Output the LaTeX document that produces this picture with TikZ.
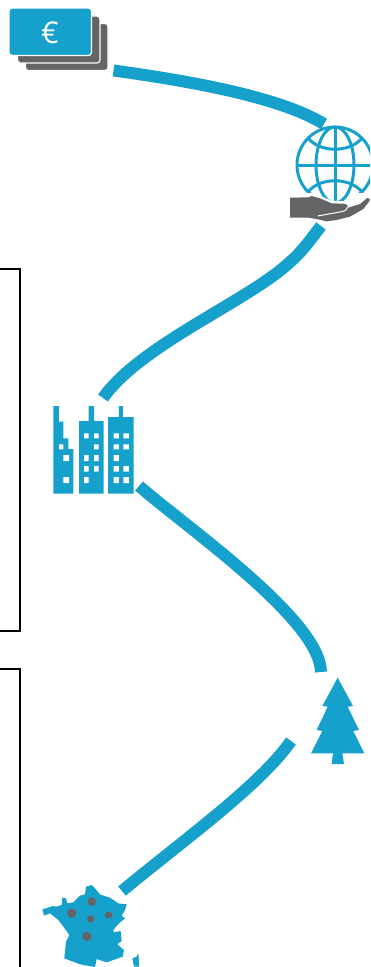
\documentclass[tikz,border=0pt]{standalone}
\usepackage{fontspec}
\newfontfamily\eurofont{Open Sans}
\definecolor{iconblue}{HTML}{16A0CC}
\definecolor{icongrey}{HTML}{636466}
\tikzset{
  route/.style={draw=iconblue,line width=12pt,line cap=butt},
  panel/.style={draw=black,line width=2pt},
  note/.style={draw=white,line width=1.2pt,fill=icongrey,rounded corners=3pt},
  zoomed/.style={x=0.33333pt,y=-0.33333pt},
  blue/.style={fill=iconblue},
  grey/.style={fill=icongrey},
  hole/.style={fill=white},
  wire/.style={draw=iconblue,line width=3pt}
}
\begin{document}
\begin{tikzpicture}[x=1pt,y=-1pt]
\useasboundingbox (0,0) rectangle (370,967);
\clip (0,0) rectangle (370,967);
% panels
\draw[panel] (-10,268.5) -- (20,268.5) -- (20,630.5) -- (-10,630.5);
\draw[panel] (-10,668.5) -- (20,668.5) -- (20,980);
% routes
\coordinate (moneyOut) at (113.5,70.5);
\coordinate (globeIn) at (324,124);
\coordinate (globeOut) at (321,226);
\coordinate (bend) at (290,262);
\coordinate (factoryIn) at (103,398);
\coordinate (factoryOut) at (139,486);
\coordinate (treeIn) at (321,672);
\coordinate (treeOut) at (291,741);
\coordinate (franceIn) at (122,891);
\draw[route] (moneyOut) .. controls (190,81) and (280,97) .. (globeIn);
\draw[route] (globeOut) .. controls (310,240) and (302,252) .. (bend)
   .. controls (250,300) and (140,345) .. (factoryIn);
\draw[route] (factoryOut) .. controls (190,530) and (320,620) .. (treeIn);
\draw[route] (treeOut) .. controls (260,785) and (190,835) .. (franceIn);
% money
\draw[note] (25.5,23.5) rectangle (108,70.5);
\draw[note] (17.5,16) rectangle (100,63);
\draw[draw=white,line width=1.2pt,blue,rounded corners=3pt] (9,8) rectangle (91.5,55.5);
\node[text=white,inner sep=0pt,font=\eurofont\fontsize{30}{30}\selectfont] (euro) at (50,32.5) {€};
% globe
\begin{scope}
\clip (280,110) rectangle (370,192);
\draw[wire] (335,165) circle (38);
\end{scope}
\begin{scope}
\clip (280,110) rectangle (370,200);
\draw[wire] (335,165) ellipse (19 and 38);
\draw[wire] (335,127) -- (335,203);
\draw[wire] (297,165) -- (373,165);
\draw[wire] (308,138) .. controls (320,153) and (350,153) .. (362,138);
\draw[wire] (308,192) .. controls (320,177) and (350,177) .. (362,192);
\end{scope}
% hand
\begin{scope}[shift={(270,110)},zoomed]
\fill[white] (125,250) -- (150,257) -- (185,272) -- (225,274) -- (240,282) -- (300,255) -- (300,272) -- (225,300) -- (125,270) -- cycle;
\fill[grey] (60,263) -- (115,262) -- (125,258) -- (150,265) -- (185,280) -- (222,281)
  .. controls (236,283) and (234,292) .. (232,294) -- (270,282) -- (292,264)
  .. controls (300,262) and (302,270) .. (298,274)
  -- (280,297) -- (240,320) -- (200,330) -- (170,334) -- (140,327) -- (115,323) -- (60,323) -- cycle;
\draw[white,line width=1pt] (143,318) -- (215,305) .. controls (228,302) and (232,298) .. (232,292);
\end{scope}
% factory
\begin{scope}[shift={(40,395)},zoomed]
\fill[blue] (40,33) -- (57,33) -- (57,80) -- (70,80) -- (70,130) -- (85,130) -- (85,162) -- (100,162) -- (100,296) -- (40,296) -- cycle;
\fill[blue] (117,78) -- (146,78) -- (146,33) -- (162,33) -- (162,78) -- (191,78) -- (191,296) -- (117,296) -- cycle;
\fill[blue] (204,66) -- (237,66) -- (237,33) -- (249,33) -- (249,66) -- (281,66) -- (281,296) -- (204,296) -- cycle;
\fill[hole] (57,148) rectangle (70,163) (70,180) rectangle (87,198) (70,246) rectangle (87,264);
\fill[hole] (132,115) rectangle (146,130) (162,115) rectangle (176,130)
  (162,148) rectangle (176,163)
  (132,180) rectangle (146,198) (162,180) rectangle (176,198)
  (132,213) rectangle (146,230) (162,213) rectangle (176,230)
  (132,246) rectangle (146,264);
\fill[hole] (221,115) rectangle (237,130) (250,115) rectangle (267,130)
  (221,148) rectangle (237,163) (250,148) rectangle (267,163)
  (221,180) rectangle (237,198)
  (221,213) rectangle (237,230) (250,213) rectangle (267,230)
  (221,246) rectangle (237,264) (250,246) rectangle (267,264);
\end{scope}
% tree
\begin{scope}[shift={(285,650)},zoomed]
\fill[blue] (158,83) -- (204,168) -- (188,170) -- (222,240) -- (205,243) -- (238,310) -- (172,310) -- (177,342) -- (140,342) -- (144,310) -- (78,310) -- (112,243) -- (95,240) -- (128,170) -- (112,168) -- cycle;
\end{scope}
% France
\begin{scope}[shift={(30,875)},zoomed]
\fill[blue] (37,103) -- (48,100) -- (68,93) -- (78,95) -- (95,90) -- (97,68) -- (108,70) -- (112,85) -- (130,82) -- (150,62) -- (165,58) -- (168,35) -- (185,30) -- (195,40) -- (210,58) -- (240,68) -- (265,85) -- (290,88) -- (285,105) -- (275,122) -- (285,130) -- (265,147) -- (250,165) -- (252,172) -- (272,168) -- (275,198) -- (262,208) -- (282,225) -- (278,245) -- (250,255) -- (230,262) -- (200,252) -- (195,276) -- (150,268) -- (103,250) -- (108,200) -- (118,180) -- (100,155) -- (85,135) -- (60,115) -- (42,122) -- cycle;
\fill[blue] (325,233) -- (328,275) -- (312,275) -- (307,250) -- (320,245) -- cycle;
\fill[grey] (185,80) circle (13);
\fill[grey] (125,114) circle (14);
\fill[grey] (182,132) circle (11);
\fill[grey] (236,120) ellipse (12 and 10);
\fill[grey] (171,184) circle (14);
\end{scope}
\end{tikzpicture}
\end{document}
